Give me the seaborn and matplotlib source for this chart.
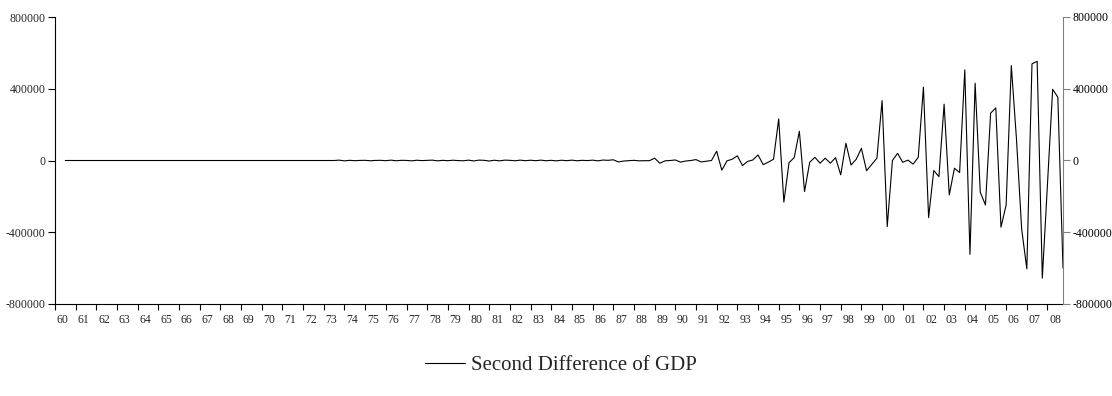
import numpy as np
import pandas as pd
import matplotlib
matplotlib.use('Agg')
import matplotlib.pyplot as plt
import seaborn as sns

nan = np.nan

# quarterly observations, 1960Q1 .. 2008Q4
YEARS = list(range(1960, 2009))
QUARTERS = [0.0, 0.25, 0.5, 0.75]

D2_GDP = [
    nan, nan, 0, 0,                     # 1960
    0, 0, 0, 0,                         # 1961
    0, 0, 0, 0,                         # 1962
    0, 0, 0, 0,                         # 1963
    0, 0, 0, 0,                         # 1964
    0, 0, 0, 0,                         # 1965
    0, 0, 0, 0,                         # 1966
    0, 0, 0, 0,                         # 1967
    0, 0, 0, 0,                         # 1968
    0, 0, 0, 0,                         # 1969
    0, 0, 0, 0,                         # 1970
    0, 0, 0, 0,                         # 1971
    0, 0, 0, 0,                         # 1972
    0, 0, 0, 2000,                      # 1973
    -2000, 1000, -1000, 500,            # 1974
    1000, -1500, 500, 1000,             # 1975
    -1000, 2000, -1500, 1000,           # 1976
    500, -2000, 1500, -500,             # 1977
    1000, 2000, -2000, 1000,            # 1978
    -1000, 1500, -500, -1500,           # 1979
    2000, -2500, 2000, 1000,            # 1980
    -3000, 1500, -2000, 2000,           # 1981
    1000, -1500, 2000, -1000,           # 1982
    1500, -1000, 2000, -1500,           # 1983
    1000, -2000, 1500, -1000,           # 1984
    2000, -1500, 1000, -500,            # 1985
    2000, -2000, 2500, 1000,            # 1986
    4000, -8000, -3000, -1000,          # 1987
    1000, -2000, -1000, -1000,          # 1988
    13000, -15000, -2000, 0,            # 1989
    3000, -9000, -3000, 0,              # 1990
    5000, -8000, -4000, 0,              # 1991
    52000, -54000, -2000, 7000,         # 1992
    26000, -28000, -5000, 3000,         # 1993
    31000, -23000, -9000, 7000,         # 1994
    232000, -232000, -12000, 16000,     # 1995
    163000, -173000, -10000, 18000,     # 1996
    -15000, 13000, -15000, 16000,       # 1997
    -80000, 96000, -25000, 7000,        # 1998
    68000, -57000, -22000, 13000,       # 1999
    334000, -368000, 0, 40000,          # 2000
    -10000, 2000, -20000, 18000,        # 2001
    409000, -318000, -56000, -90000,    # 2002
    314000, -192000, -43000, -67000,    # 2003
    505000, -523000, 431000, -177000,   # 2004
    -248000, 264000, 293000, -372000,   # 2005
    -248000, 529000, 119000, -381000,   # 2006
    -604000, 539000, 553000, -656000,   # 2007
    -130000, 397000, 353000, -600000,   # 2008
]

Y_TICKS = [-800000, -400000, 0, 400000, 800000]
X_LABELS = [f"{y % 100:02d}" for y in YEARS]
SERIES_NAME = "Second Difference of GDP"

dates = [y + q for y in YEARS for q in QUARTERS]
df = pd.DataFrame({"date": dates, "d2": D2_GDP})

sns.set_style("ticks")
plt.rcParams['font.family'] = ['Liberation Serif', 'DejaVu Serif']

W, H = 1112, 396
fig = plt.figure(figsize=(W / 100, H / 100), dpi=100)
ax = fig.add_axes([55 / W, 1 - 304 / H, 1008 / W, 287 / H])

sns.lineplot(data=df, x="date", y="d2", estimator=None, color="black",
             linewidth=0.8, label=SERIES_NAME, ax=ax)

ax.set_xlim(1960, 2008.75)
ax.set_ylim(-800000, 800000)
ax.set_xlabel("")
ax.set_ylabel("")

# year ticks at first quarter, labels centred on the year's observations
ax.set_xticks(YEARS)
ax.set_xticklabels([])
ax.set_xticks([y + 0.375 for y in YEARS], minor=True)
ax.set_xticklabels(X_LABELS, minor=True)
ax.tick_params(axis='x', which='major', length=4.5, width=0.8, color='black')
ax.tick_params(axis='x', which='minor', length=0, pad=7.5, labelsize=8.5)

ax.set_yticks(Y_TICKS)
ax.set_yticklabels([str(v) for v in Y_TICKS])
ax.tick_params(axis='y', length=5, width=0.8, pad=2, labelsize=8.5, color='black')

for side in ['top', 'right']:
    ax.spines[side].set_visible(False)
for side in ['left', 'bottom']:
    ax.spines[side].set_color('black')
    ax.spines[side].set_linewidth(0.8)

# right-hand axis mirrors the left one
ax2 = ax.twinx()
ax2.set_ylim(-800000, 800000)
ax2.set_yticks(Y_TICKS)
ax2.set_yticklabels([str(v) for v in Y_TICKS])
ax2.tick_params(axis='y', length=5, width=0.8, pad=2, labelsize=8.5,
                color='#808080', labelcolor='black')
for side in ['top', 'left', 'bottom']:
    ax2.spines[side].set_visible(False)
ax2.spines['right'].set_color('#808080')
ax2.spines['right'].set_linewidth(0.8)

handles, labels = ax.get_legend_handles_labels()
ax.get_legend().remove()
fig.legend(handles, labels, loc='center', bbox_to_anchor=(561 / W, 1 - 365 / H),
           frameon=False, fontsize=15, handlelength=1.9, handletextpad=0.3)

plt.savefig("out.png", dpi=100)
plt.close()
